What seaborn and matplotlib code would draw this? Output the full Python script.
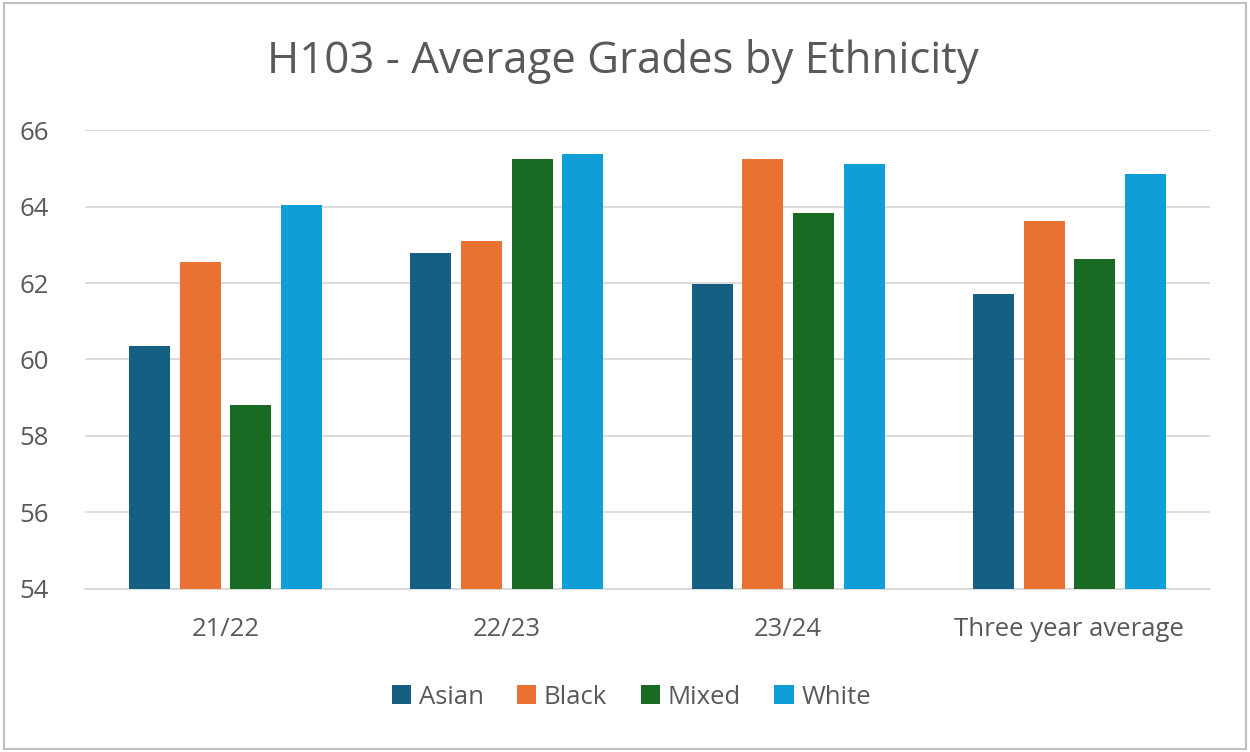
import matplotlib
matplotlib.use("Agg")
import matplotlib.pyplot as plt
import pandas as pd
import seaborn as sns
from matplotlib.patches import Rectangle

# values
years = ["21/22", "22/23", "23/24", "Three year average"]
ethnicities = ["Asian", "Black", "Mixed", "White"]
asian = [60.36, 62.78, 61.97, 61.70]
black = [62.56, 63.10, 65.25, 63.63]
mixed = [58.81, 65.25, 63.83, 62.63]
white = [64.03, 65.38, 65.12, 64.84]
colors = ["#156082", "#E97132", "#196B24", "#0F9ED5"]
y_ticks = [54, 56, 58, 60, 62, 64, 66]

TEXT = "#595959"
GRID = "#D9D9D9"


def main():
    rows = []
    for name, vals in zip(ethnicities, [asian, black, mixed, white]):
        for yr, v in zip(years, vals):
            rows.append({"Year": yr, "Ethnicity": name, "Grade": v})
    df = pd.DataFrame(rows)

    sns.set_style("white")
    plt.rcParams["font.family"] = ["Open Sans", "DejaVu Sans"]

    fig = plt.figure(figsize=(12.5, 7.52), dpi=100)
    ax = fig.add_axes([0.068, 0.2168, 0.9, 0.6103])

    sns.barplot(
        data=df,
        x="Year",
        y="Grade",
        hue="Ethnicity",
        order=years,
        hue_order=ethnicities,
        palette=colors,
        saturation=1,
        width=0.72,
        gap=0.19,
        errorbar=None,
        linewidth=0,
        ax=ax,
        zorder=3,
    )

    ax.set_ylim(54, 66)
    ax.set_yticks(y_ticks)
    ax.set_xlim(-0.5, len(years) - 0.5)
    ax.grid(axis="y", color=GRID, linewidth=1.3, zorder=0)
    ax.set_axisbelow(True)
    for side in ["top", "right", "left"]:
        ax.spines[side].set_visible(False)
    ax.spines["bottom"].set_color(GRID)
    ax.spines["bottom"].set_linewidth(1.3)
    ax.tick_params(axis="both", length=0, labelsize=18.5, colors=TEXT)
    ax.tick_params(axis="y", pad=26)
    ax.tick_params(axis="x", pad=20)
    ax.set_xlabel("")
    ax.set_ylabel("")

    handles, labels = ax.get_legend_handles_labels()
    ax.get_legend().remove()
    fig.legend(
        handles,
        labels,
        loc="center",
        bbox_to_anchor=(0.505, 0.073),
        ncol=4,
        frameon=False,
        fontsize=18.5,
        labelcolor=TEXT,
        handlelength=0.75,
        handleheight=0.75,
        handletextpad=0.3,
        columnspacing=1.3,
    )

    fig.text(0.4985, 0.918, "H103 - Average Grades by Ethnicity",
             ha="center", va="center", fontsize=31.5, color=TEXT)

    fig.patches.append(Rectangle((0.003, 0.004), 0.994, 0.992,
                                 transform=fig.transFigure, fill=False,
                                 edgecolor="#BFBFBF", linewidth=1.5))

    fig.savefig("out.png", dpi=100)
    plt.close(fig)


if __name__ == "__main__":
    main()
